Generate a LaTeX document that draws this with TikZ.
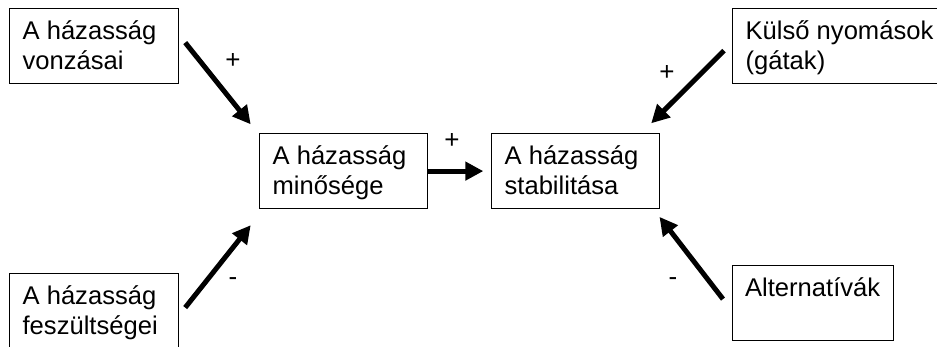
\documentclass[tikz,border=0pt]{standalone}
\usepackage{fontspec}
\setmainfont{Liberation Sans}
\usetikzlibrary{arrows.meta}

\begin{document}
\begin{tikzpicture}[x=1pt, y=-1pt,
	factor/.style={draw, line width=1.2pt, anchor=north west, align=flush left,
		inner xsep=13pt, inner ysep=0pt, text width=143pt,
		text height=31pt, text depth=44pt,
		font=\fontsize{25.6}{30}\selectfont},
	link/.style={line width=5pt, -{Triangle[length=18pt,width=18pt]}},
	sign/.style={anchor=base, inner sep=0pt, font=\fontsize{26}{30}\selectfont}]
% \draw[help lines] (0,0) grid (937,347);
\useasboundingbox (0,0) rectangle (937,347);
% Boxes on the left
\node [factor] (vonz) at (9,8) {A házasság\\ vonzásai};
\node [factor] (fesz) at (9,273) {A házasság\\ feszültségei};
% Boxes in the middle
\node [factor, text width=142pt] (minoseg) at (259,133) {A házasság\\ minősége};
\node [factor, text width=142pt] (stab) at (491,133) {A házasság\\ stabilitása};
% Boxes on the right
\node [factor, text width=200pt] (kulso) at (732,8) {Külső nyomások\\ (gátak)};
\node [factor, inner xsep=12.5pt, text width=136pt] (alter) at (732,265) {Alternatívák};
% Arrows
\draw [link] ([shift={(6,-3.5)}]vonz.east) -- ([shift={(-8.3,-8.7)}]minoseg.north west);
\draw [link] ([shift={(6,-3.5)}]fesz.east) -- ([shift={(-8.3,16)}]minoseg.south west);
\draw [link] (minoseg.east) -- ([shift={(-7.7,0)}]stab.west);
\draw [link] ([shift={(-8,4.5)}]kulso.west) -- ([shift={(-9,-9.7)}]stab.north east);
\draw [link] ([shift={(-9,-4)}]alter.west) -- ([shift={(-0.7,7.7)}]stab.south east);
% Signs
\node [sign] (s1) at (233,69) {+};
\node [sign] (s2) at (233,286) {-};
\node [sign] (s3) at (452,149) {+};
\node [sign] (s4) at (667,81) {+};
\node [sign] (s5) at (673,286) {-};
\end{tikzpicture}
\end{document}
